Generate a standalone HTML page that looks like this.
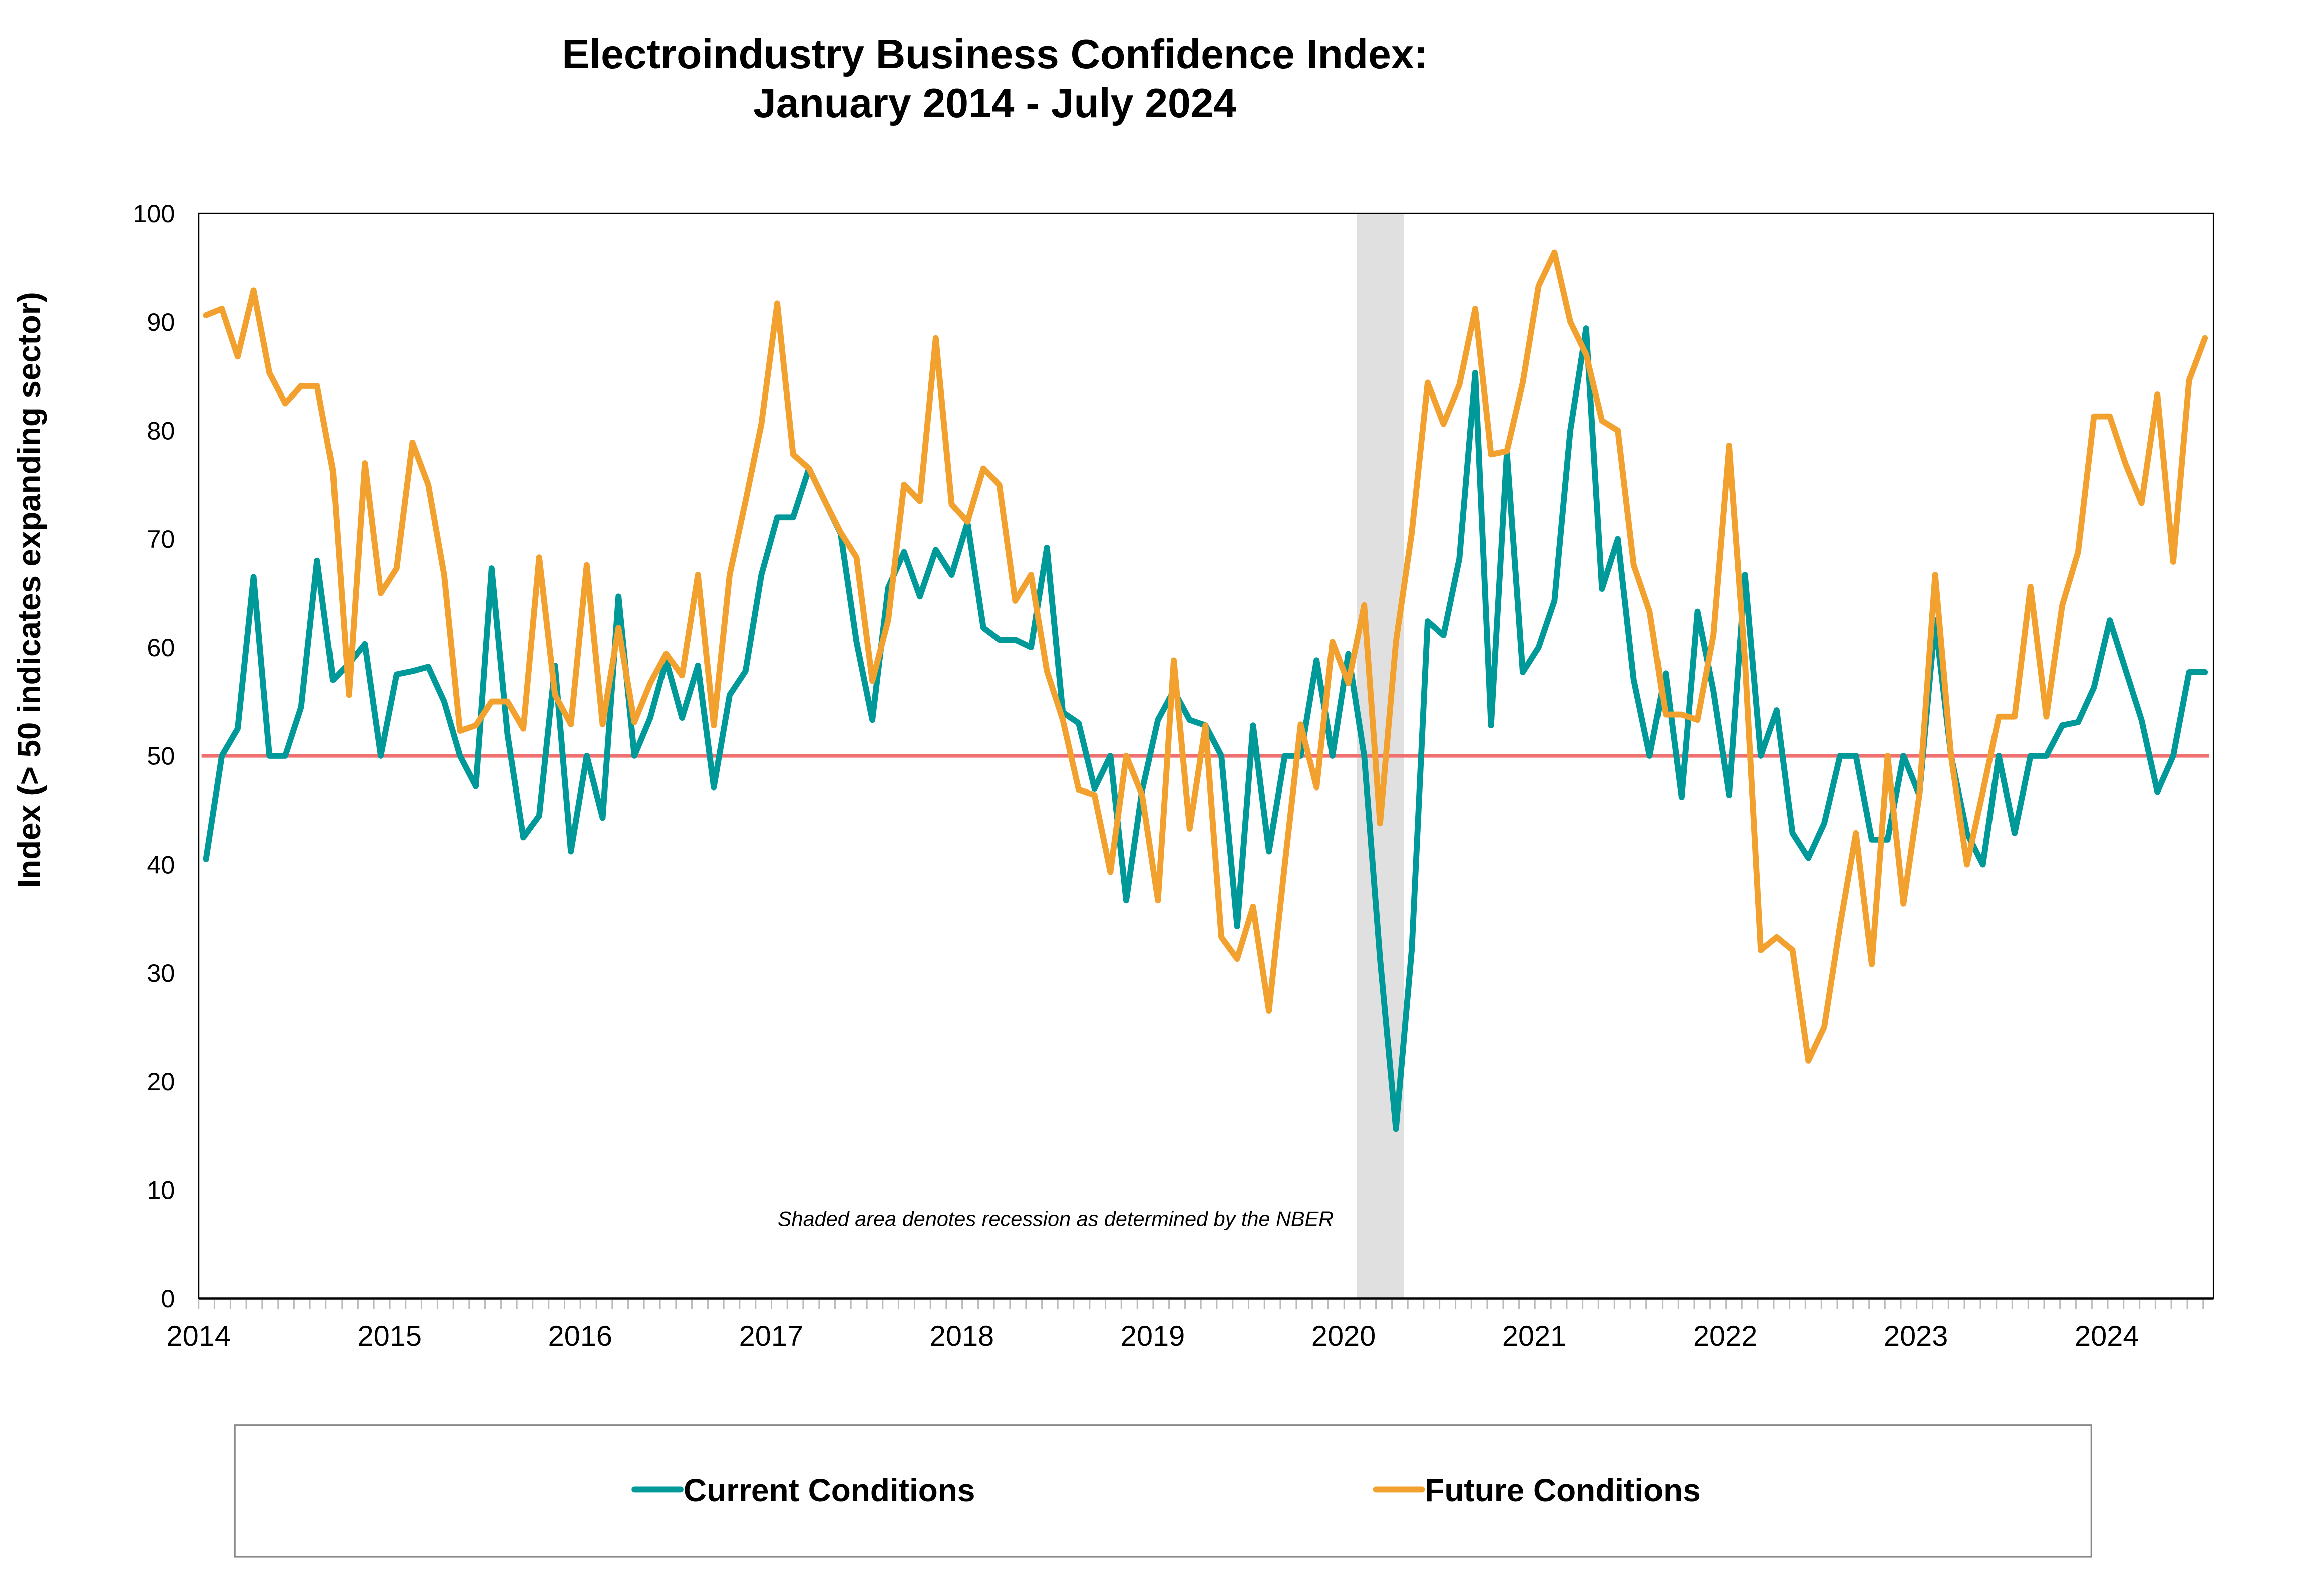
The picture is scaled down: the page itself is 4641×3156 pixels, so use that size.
<!DOCTYPE html>
<html><head><meta charset="utf-8"><style>html,body{margin:0;padding:0;background:#fff}svg{display:block}</style></head>
<body>
<svg id="s" width="4641" height="3156" viewBox="0 0 1567.5 1066" preserveAspectRatio="none" xmlns="http://www.w3.org/2000/svg" font-family="Liberation Sans, Arial, sans-serif">
<rect width="1600" height="1100" fill="#fff"/>
<text x="671" y="46" text-anchor="middle" font-size="27.8" font-weight="bold">Electroindustry Business Confidence Index:</text>
<text x="671" y="79" text-anchor="middle" font-size="27.8" font-weight="bold">January 2014 - July 2024</text>
<rect x="915" y="144" width="32" height="732" fill="#e0e0e0"/>
<rect x="134" y="144" width="1359" height="732" fill="none" stroke="#000" stroke-width="1"/>
<g id="yt" font-size="17" text-anchor="end"></g>
<g id="xt" font-size="19.5" text-anchor="middle"></g>
<g id="mt" stroke="#bbb" stroke-width="1"></g>
<line x1="134" y1="876" x2="1493" y2="876" stroke="#000" stroke-width="1.5"/>
<line x1="136" y1="510" x2="1490" y2="510" stroke="#f07070" stroke-width="2.5"/>
<polyline id="cur" fill="none" stroke="#009999" stroke-width="4" stroke-linejoin="round" stroke-linecap="round"/>
<polyline id="fut" fill="none" stroke="#f2a02e" stroke-width="4" stroke-linejoin="round" stroke-linecap="round"/>
<text x="712" y="827" text-anchor="middle" font-size="14" font-style="italic">Shaded area denotes recession as determined by the NBER</text>
<text transform="translate(27,398) rotate(-90)" text-anchor="middle" font-size="21.5" font-weight="bold">Index (&gt; 50 indicates expanding sector)</text>
<rect x="158.5" y="961.5" width="1252" height="89" fill="none" stroke="#888" stroke-width="1"/>
<line x1="428" y1="1005" x2="459" y2="1005" stroke="#009999" stroke-width="4" stroke-linecap="round"/>
<text x="461" y="1013" font-size="21.6" font-weight="bold">Current Conditions</text>
<line x1="928" y1="1005" x2="959" y2="1005" stroke="#f2a02e" stroke-width="4" stroke-linecap="round"/>
<text x="961" y="1013" font-size="21.6" font-weight="bold">Future Conditions</text>
</svg>
<script>
var C=[40.5,50,52.5,66.5,50,50,54.5,68,57,58.5,60.3,50,
57.5,57.8,58.2,55,50,47.2,67.3,52,42.5,44.5,58.3,41.2,
50,44.3,64.7,50,53.5,58.8,53.5,58.3,47.1,55.6,57.8,66.7,
72,72,76.5,73.5,70.5,60.5,53.3,65.5,68.8,64.7,69,66.7,
71.5,61.8,60.7,60.7,60,69.2,54,53,47,50,36.7,46.8,
53.3,56,53.3,52.8,50,34.3,52.8,41.2,50,50,58.8,50,
59.4,50,31.3,15.6,32.2,62.4,61.1,68.2,85.3,52.8,78,57.7,
60,64.3,80,89.4,65.4,70,57,50,57.6,46.2,63.3,56,
46.4,66.7,50,54.2,42.9,40.6,43.8,50,50,42.3,42.3,50,
46.4,62.5,50,42.9,40,50,42.9,50,50,52.8,53.1,56.3,
62.5,57.9,53.3,46.7,50,57.7,57.7];
var F=[90.6,91.2,86.8,92.9,85.3,82.5,84.1,84.1,76.2,55.6,77,65,
67.3,78.9,75,66.7,52.3,52.8,55,55,52.5,68.3,55.6,52.9,
67.6,52.9,61.8,53.1,56.7,59.4,57.4,66.7,52.8,66.7,73.5,80.6,
91.7,77.8,76.5,73.5,70.6,68.3,56.9,62.5,75,73.5,88.5,73.2,
71.6,76.5,75,64.3,66.7,57.8,53.3,46.9,46.4,39.3,50,46.4,
36.7,58.8,43.3,52.8,33.3,31.3,36.1,26.5,40,52.9,47.1,60.5,
56.7,63.9,43.8,60.5,70.6,84.4,80.6,84.2,91.2,77.8,78.1,84.4,
93.3,96.4,90,87,80.9,80,67.6,63.3,53.8,53.8,53.3,61.1,
78.6,58.8,32.1,33.3,32.1,21.9,25,34.4,42.9,30.8,50,36.4,
46.4,66.7,50,40,46.7,53.6,53.6,65.6,53.6,63.9,68.8,81.3,
81.3,76.9,73.3,83.3,67.9,84.6,88.5];
function X(m){return 139+10.7*m}function Y(v){return 876-7.32*v}
function pts(a){return a.map(function(v,i){return X(i).toFixed(1)+','+Y(v).toFixed(1)}).join(' ')}
document.getElementById('cur').setAttribute('points',pts(C));
document.getElementById('fut').setAttribute('points',pts(F));
var h='';
for(var v=0;v<=100;v+=10)h+='<text x="118" y="'+(Y(v)+6)+'">'+v+'</text>';
document.getElementById('yt').innerHTML=h;h='';
for(var y=0;y<=10;y++)h+='<text x="'+(134+128.7*y)+'" y="908">'+(2014+y)+'</text>';
document.getElementById('xt').innerHTML=h;h='';
for(var m=0;m<=126;m++){var x=(134+10.73*m).toFixed(1);h+='<line x1="'+x+'" y1="877" x2="'+x+'" y2="883"/>';}
document.getElementById('mt').innerHTML=h;
</script>
</body></html>
